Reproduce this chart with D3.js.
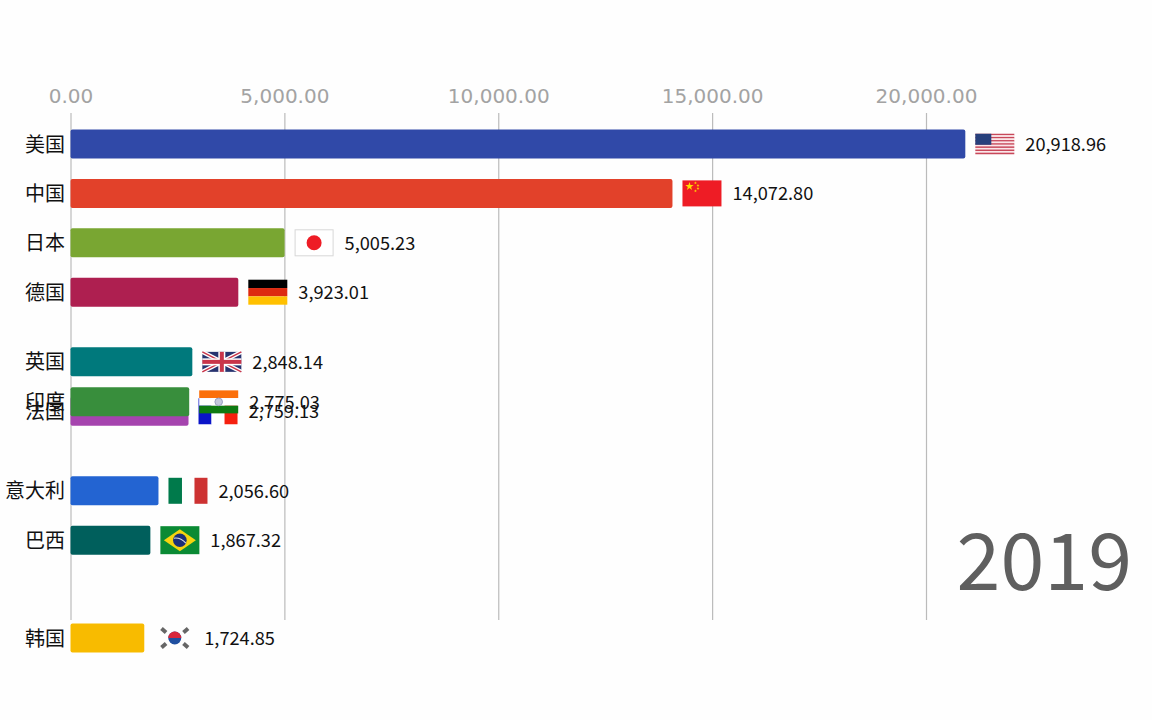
<!DOCTYPE html>
<html>
<head>
<meta charset="utf-8">
<script src="https://d3js.org/d3.v7.min.js"></script>
<style>
  body { margin: 0; background: #fefefe; }
  svg { display: block; }
  .cjk { font-family: "Noto Sans CJK SC", sans-serif; }
</style>
</head>
<body>
<svg></svg>
<script>
// data, in draw order (india goes after france, it sits on top of it)
var countries = ["美国", "中国", "日本", "德国", "英国", "法国", "印度", "意大利", "巴西", "韩国"];
var values = [20918.96, 14072.80, 5005.23, 3923.01, 2848.14, 2759.13, 2775.03, 2056.60, 1867.32, 1724.85];
// rank while the race is moving, so not whole numbers
var ranks = [0, 1, 2, 3, 4.41, 5.41, 5.22, 7.02, 8.02, 10];
var colors = ["#3049a8", "#e2412a", "#79a632", "#ae1f50", "#00797c", "#a544ae", "#388e3c", "#2364d2", "#005f5c", "#f8bb00"];
var flags = ["us", "cn", "jp", "de", "gb", "fr", "in", "it", "br", "kr"];
var tickValues = [0, 5000, 10000, 15000, 20000];
var year = "2019";

var svgWidth = 1152;
var svgHeight = 720;
var barHeight = 29;
var flagWidth = 39;

function box(g, x, y, w, h, fill) {
  return g.append("rect").attr("x", x).attr("y", y).attr("width", w).attr("height", h).attr("fill", fill);
}

// horizontal stripes, top to bottom
function hStripes(g, h, cols) {
  cols.forEach(function(c, i) {
    box(g, 0, -h / 2 + i * h / cols.length, flagWidth, h / cols.length, c);
  });
}

// flags are drawn in local coords, x from 0 to flagWidth, y centred on the bar
var drawFlag = {
  us: function(g) {
    var h = 20.5;
    for (var i = 0; i < 13; i++) {
      box(g, 0, -h / 2 + i * h / 13, flagWidth, h / 13, i % 2 ? "#fbe6e8" : "#c8485a");
    }
    box(g, 0, -h / 2, 16, h * 7 / 13, "#27407c");
  },
  cn: function(g) {
    box(g, 0, -13, flagWidth, 26, "#ee1c25");
    var star = d3.symbol().type(d3.symbolStar);
    g.append("path").attr("d", star.size(22)()).attr("transform", "translate(7,-7)").attr("fill", "#ffde00");
    [[13, -10.5], [15.5, -8], [15.5, -5], [13, -2.5]].forEach(function(p) {
      g.append("path").attr("d", star.size(3)()).attr("transform", `translate(${p[0]},${p[1]})`).attr("fill", "#ffde00");
    });
  },
  jp: function(g) {
    box(g, 0.5, -13, flagWidth - 1, 26, "#ffffff").attr("stroke", "#d8d8d8");
    g.append("circle").attr("cx", flagWidth / 2).attr("r", 7.5).attr("fill", "#ee1c25");
  },
  de: function(g) {
    hStripes(g, 25, ["#000000", "#dd2a10", "#ffc000"]);
  },
  gb: function(g) {
    var h = 20;
    box(g, 0, -h / 2, flagWidth, h, "#27336f");
    var cross = "M0," + (-h / 2) + "L" + flagWidth + "," + (h / 2) + "M0," + (h / 2) + "L" + flagWidth + "," + (-h / 2);
    g.append("path").attr("d", cross).attr("stroke", "#fff").attr("stroke-width", 4);
    g.append("path").attr("d", cross).attr("stroke", "#c9354a").attr("stroke-width", 1.5);
    box(g, 0, -3.5, flagWidth, 7, "#fff");
    box(g, flagWidth / 2 - 3.5, -h / 2, 7, h, "#fff");
    box(g, 0, -2, flagWidth, 4, "#c9354a");
    box(g, flagWidth / 2 - 2, -h / 2, 4, h, "#c9354a");
  },
  fr: function(g) {
    box(g, 0, -13, 13, 26, "#0a14c8");
    box(g, 13, -13, 13, 26, "#ffffff");
    box(g, 26, -13, 13, 26, "#f5200f");
  },
  in: function(g) {
    hStripes(g, 23, ["#fb6f0a", "#ffffff", "#0f7a12"]);
    g.append("circle").attr("cx", flagWidth / 2).attr("r", 3.8).attr("fill", "#c4c8dc").attr("stroke", "#9a9fc0");
  },
  it: function(g) {
    box(g, 0, -13, 13.5, 26, "#007a4b");
    box(g, 26, -13, 13, 26, "#cd3232");
  },
  br: function(g) {
    box(g, 0, -14, flagWidth, 28, "#0a8a34");
    g.append("path").attr("d", "M3.5,0L19.5,-11L35.5,0L19.5,11Z").attr("fill", "#f5d40f");
    g.append("circle").attr("cx", 19.5).attr("r", 6.8).attr("fill", "#1c2f78");
    g.append("path").attr("d", "M13.5,-2Q20,-3 25.5,3").attr("fill", "none").attr("stroke", "#d8dce8").attr("stroke-width", 1.1);
  },
  kr: function(g) {
    var cx = flagWidth / 2 + 1;
    // yin-yang, red half over blue half
    g.append("circle").attr("cx", cx).attr("r", 6.5).attr("fill", "#1f4fa0");
    g.append("path").attr("d", "M" + (cx - 6.5) + ",0A6.5,6.5 0 0 1 " + (cx + 6.5) + ",0Z").attr("fill", "#d8263c");
    [[-11, -7.5, 40], [11, -7.5, -40], [-11, 7.5, -40], [11, 7.5, 40]].forEach(function(t) {
      g.append("rect")
        .attr("x", -3).attr("y", -2).attr("width", 6).attr("height", 4)
        .attr("fill", "#666")
        .attr("transform", `translate(${cx + t[0]},${t[1]}) rotate(${t[2]})`);
    });
  }
};

var svg = d3.select("svg")
  .attr("width", svgWidth)
  .attr("height", svgHeight);

var xScale = d3.scaleLinear().domain([0, 20000]).range([70.5, 926]);
var yScale = d3.scaleLinear().domain([0, 10]).range([144, 638]);

// axis on top with the ticks running down as grid lines
var topAxis = d3.axisTop(xScale)
  .tickValues(tickValues)
  .tickSize(-507)
  .tickFormat(d3.format(",.2f"));

var axisGroup = svg.append("g")
  .attr("transform", "translate(0,113)")
  .call(topAxis);
axisGroup.select(".domain").remove();
axisGroup.selectAll("line").attr("stroke", "#bbbbbb").attr("stroke-width", 1.2);
axisGroup.selectAll("text")
  .attr("y", -10)
  .attr("fill", "#a3a3a3")
  .style("font-family", "'DejaVu Sans', sans-serif")
  .style("font-size", "20px");

var data = countries.map(function(c, i) {
  return { name: c, value: values[i], rank: ranks[i], color: colors[i], flag: flags[i] };
});

var rows = svg.selectAll(".row")
  .data(data)
  .enter()
  .append("g")
  .attr("class", "row")
  .attr("transform", d => `translate(0,${yScale(d.rank)})`);

rows.append("rect")
  .attr("x", xScale(0))
  .attr("y", -barHeight / 2)
  .attr("width", d => xScale(d.value) - xScale(0))
  .attr("height", barHeight)
  .attr("rx", 2)
  .attr("fill", d => d.color);

rows.append("text")
  .attr("class", "cjk")
  .attr("x", 65)
  .attr("dy", "0.38em")
  .attr("text-anchor", "end")
  .attr("fill", "#111")
  .style("font-size", "20px")
  .text(d => d.name);

rows.append("g")
  .attr("transform", d => `translate(${xScale(d.value) + 10},0)`)
  .each(function(d) { drawFlag[d.flag](d3.select(this)); });

rows.append("text")
  .attr("class", "cjk")
  .attr("x", d => xScale(d.value) + 10 + flagWidth + 11)
  .attr("dy", "0.38em")
  .attr("fill", "#111")
  .style("font-size", "18.2px")
  .text(d => d3.format(",.2f")(d.value));

svg.append("text")
  .attr("class", "cjk")
  .attr("x", 1132)
  .attr("y", 590)
  .attr("text-anchor", "end")
  .attr("fill", "#5f5f5f")
  .style("font-size", "79px")
  .text(year);
</script>
</body>
</html>
